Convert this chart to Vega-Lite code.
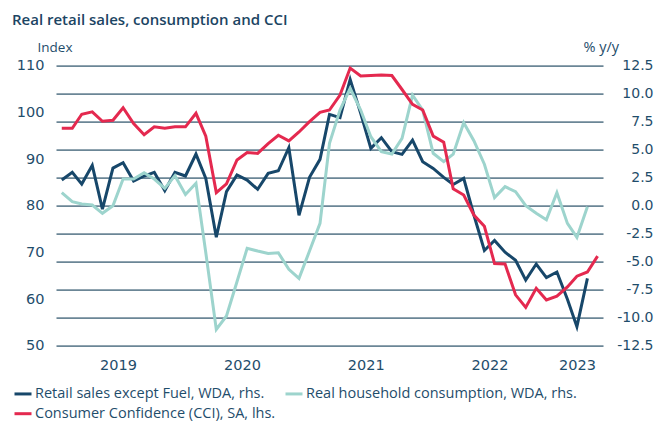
{
  "$schema": "https://vega.github.io/schema/vega-lite/v6.json",
  "width": 547,
  "height": 280,
  "autosize": "none",
  "padding": {"left": 56, "top": 65.7, "right": 51, "bottom": 77.3},
  "background": "white",
  "config": {
    "view": {"stroke": null},
    "font": "Open Sans",
    "axis": {"labelFont": "DejaVu Sans", "titleFont": "Open Sans", "labelColor": "#1f4d6b", "titleColor": "#1f4d6b", "domain": false, "ticks": false},
    "legend": {"labelFont": "Open Sans", "labelColor": "#1f4d6b"}
  },
  "title": {
    "text": "Real retail sales, consumption and CCI",
    "anchor": "start",
    "dx": -1,
    "offset": 12,
    "fontSize": 15,
    "fontWeight": 600,
    "font": "Open Sans",
    "color": "#1c4563"
  },
  "data": {
    "values": [
      {"d": "2019-01-01T00:00", "r": 2.29, "c": 1.16, "k": 96.6},
      {"d": "2019-02-01T00:00", "r": 2.98, "c": 0.36, "k": 96.6},
      {"d": "2019-03-01T00:00", "r": 1.93, "c": 0.15, "k": 99.6},
      {"d": "2019-04-01T00:00", "r": 3.6, "c": 0.06, "k": 100.1},
      {"d": "2019-05-01T00:00", "r": -0.3, "c": -0.68, "k": 98.1},
      {"d": "2019-06-01T00:00", "r": 3.36, "c": 0.0, "k": 98.3},
      {"d": "2019-07-01T00:00", "r": 3.84, "c": 2.38, "k": 101.0},
      {"d": "2019-08-01T00:00", "r": 2.2, "c": 2.38, "k": 97.6},
      {"d": "2019-09-01T00:00", "r": 2.65, "c": 2.95, "k": 95.2},
      {"d": "2019-10-01T00:00", "r": 2.98, "c": 2.38, "k": 96.9},
      {"d": "2019-11-01T00:00", "r": 1.34, "c": 1.55, "k": 96.6},
      {"d": "2019-12-01T00:00", "r": 2.98, "c": 2.68, "k": 96.9},
      {"d": "2020-01-01T00:00", "r": 2.65, "c": 1.0, "k": 96.9},
      {"d": "2020-02-01T00:00", "r": 4.61, "c": 2.0, "k": 99.8},
      {"d": "2020-03-01T00:00", "r": 2.44, "c": -4.2, "k": 94.9},
      {"d": "2020-04-01T00:00", "r": -2.82, "c": -11.04, "k": 82.8},
      {"d": "2020-05-01T00:00", "r": 1.25, "c": -9.85, "k": 84.7},
      {"d": "2020-06-01T00:00", "r": 2.74, "c": -6.79, "k": 89.8},
      {"d": "2020-07-01T00:00", "r": 2.29, "c": -3.81, "k": 91.4},
      {"d": "2020-08-01T00:00", "r": 1.46, "c": -4.05, "k": 91.2},
      {"d": "2020-09-01T00:00", "r": 2.89, "c": -4.26, "k": 93.3},
      {"d": "2020-10-01T00:00", "r": 3.12, "c": -4.2, "k": 95.1},
      {"d": "2020-11-01T00:00", "r": 5.18, "c": -5.68, "k": 93.9},
      {"d": "2020-12-01T00:00", "r": -0.86, "c": -6.49, "k": 95.8},
      {"d": "2021-01-01T00:00", "r": 2.53, "c": -4.05, "k": 98.0},
      {"d": "2021-02-01T00:00", "r": 4.14, "c": -1.58, "k": 100.0},
      {"d": "2021-03-01T00:00", "r": 8.15, "c": 5.57, "k": 100.5},
      {"d": "2021-04-01T00:00", "r": 7.86, "c": 8.54, "k": 103.7},
      {"d": "2021-05-01T00:00", "r": 11.28, "c": 10.48, "k": 109.5},
      {"d": "2021-06-01T00:00", "r": 8.24, "c": 8.54, "k": 107.8},
      {"d": "2021-07-01T00:00", "r": 5.12, "c": 6.16, "k": 107.9},
      {"d": "2021-08-01T00:00", "r": 6.07, "c": 4.82, "k": 108.0},
      {"d": "2021-09-01T00:00", "r": 4.82, "c": 4.62, "k": 107.9},
      {"d": "2021-10-01T00:00", "r": 4.58, "c": 6.02, "k": 104.9},
      {"d": "2021-11-01T00:00", "r": 5.86, "c": 9.88, "k": 101.7},
      {"d": "2021-12-01T00:00", "r": 3.93, "c": 8.54, "k": 100.5},
      {"d": "2022-01-01T00:00", "r": 3.33, "c": 4.68, "k": 94.9},
      {"d": "2022-02-01T00:00", "r": 2.53, "c": 3.93, "k": 93.6},
      {"d": "2022-03-01T00:00", "r": 1.89, "c": 4.6, "k": 83.6},
      {"d": "2022-04-01T00:00", "r": 2.44, "c": 7.41, "k": 82.3},
      {"d": "2022-05-01T00:00", "r": -0.83, "c": 5.8, "k": 78.0},
      {"d": "2022-06-01T00:00", "r": -4.0, "c": 3.7, "k": 75.6},
      {"d": "2022-07-01T00:00", "r": -3.1, "c": 0.72, "k": 67.6},
      {"d": "2022-08-01T00:00", "r": -4.15, "c": 1.7, "k": 67.5},
      {"d": "2022-09-01T00:00", "r": -4.88, "c": 1.25, "k": 60.9},
      {"d": "2022-10-01T00:00", "r": -6.64, "c": 0.0, "k": 58.2},
      {"d": "2022-11-01T00:00", "r": -5.21, "c": -0.68, "k": 62.3},
      {"d": "2022-12-01T00:00", "r": -6.42, "c": -1.25, "k": 59.8},
      {"d": "2023-01-01T00:00", "r": -5.92, "c": 1.16, "k": 60.6},
      {"d": "2023-02-01T00:00", "r": -8.35, "c": -1.58, "k": 62.6},
      {"d": "2023-03-01T00:00", "r": -10.8, "c": -2.83, "k": 64.9},
      {"d": "2023-04-01T00:00", "r": -6.49, "c": -0.09, "k": 65.8},
      {"d": "2023-05-01T00:00", "r": null, "c": null, "k": 69.2}
    ]
  },
  "encoding": {
    "x": {
      "field": "d",
      "type": "temporal",
      "title": null,
      "scale": {"domain": [{"year": 2018, "month": 12, "date": 15}, {"year": 2023, "month": 5, "date": 17}]},
      "axis": {
        "values": [
          {"year": 2019, "month": 6, "date": 16},
          {"year": 2020, "month": 6, "date": 16},
          {"year": 2021, "month": 6, "date": 16},
          {"year": 2022, "month": 6, "date": 16},
          {"year": 2023, "month": 3, "date": 1}
        ],
        "format": "%Y",
        "grid": false,
        "labelFontSize": 14.5,
        "labelPadding": 13,
        "labelOverlap": false
      }
    }
  },
  "layer": [
    {
      "layer": [
        {
          "mark": {"type": "line", "strokeWidth": 3, "strokeJoin": "miter", "clip": true},
          "encoding": {
            "y": {"field": "r", "type": "quantitative"},
            "color": {"datum": "Retail sales except Fuel, WDA, rhs."}
          }
        },
        {
          "mark": {"type": "line", "strokeWidth": 3, "strokeJoin": "miter", "clip": true},
          "encoding": {
            "y": {"field": "c", "type": "quantitative"},
            "color": {"datum": "Real household consumption, WDA, rhs."}
          }
        }
      ],
      "encoding": {
        "y": {
          "type": "quantitative",
          "scale": {"domain": [-12.5, 12.5], "nice": false, "zero": false},
          "axis": {
            "orient": "right",
            "values": [-12.5, -10, -7.5, -5, -2.5, 0, 2.5, 5, 7.5, 10, 12.5],
            "format": ".1f",
            "labelExpr": "replace(datum.label, '\u2212', '-')",
            "grid": true,
            "gridColor": "#6b8696",
            "gridWidth": 1.8,
            "labelAlign": "right",
            "labelPadding": 50,
            "labelFontSize": 14,
            "title": "% y/y",
            "titleAngle": 0,
            "titleX": -20,
            "titleY": -18,
            "titleAlign": "left",
            "titleBaseline": "middle",
            "titleFontWeight": "normal",
            "titleFontSize": 14.5
          }
        }
      }
    },
    {
      "mark": {"type": "line", "strokeWidth": 3, "strokeJoin": "miter", "clip": true},
      "encoding": {
        "y": {
          "field": "k",
          "type": "quantitative",
          "scale": {"domain": [50, 110], "nice": false, "zero": false},
          "axis": {
            "orient": "left",
            "values": [50, 60, 70, 80, 90, 100, 110],
            "grid": false,
            "labelPadding": 12,
            "labelFontSize": 14.5,
            "title": "Index",
            "titleAngle": 0,
            "titleX": -19,
            "titleY": -18,
            "titleAlign": "left",
            "titleBaseline": "middle",
            "titleFontWeight": "normal",
            "titleFontSize": 13.5
          }
        },
        "color": {
          "datum": "Consumer Confidence (CCI), SA, lhs.",
          "type": "nominal",
          "scale": {
            "domain": ["Retail sales except Fuel, WDA, rhs.", "Real household consumption, WDA, rhs.", "Consumer Confidence (CCI), SA, lhs."],
            "range": ["#17476a", "#9dd4cd", "#e4294f"]
          },
          "legend": {
            "title": null,
            "orient": "none",
            "legendX": -43,
            "legendY": 318,
            "direction": "horizontal",
            "columns": 2,
            "columnPadding": 3,
            "rowPadding": 3,
            "symbolType": "stroke",
            "symbolSize": 289,
            "symbolStrokeWidth": 3,
            "labelFontSize": 14.5,
            "labelOffset": 2,
            "labelLimit": 400
          }
        }
      }
    }
  ],
  "resolve": {"scale": {"y": "independent"}}
}
